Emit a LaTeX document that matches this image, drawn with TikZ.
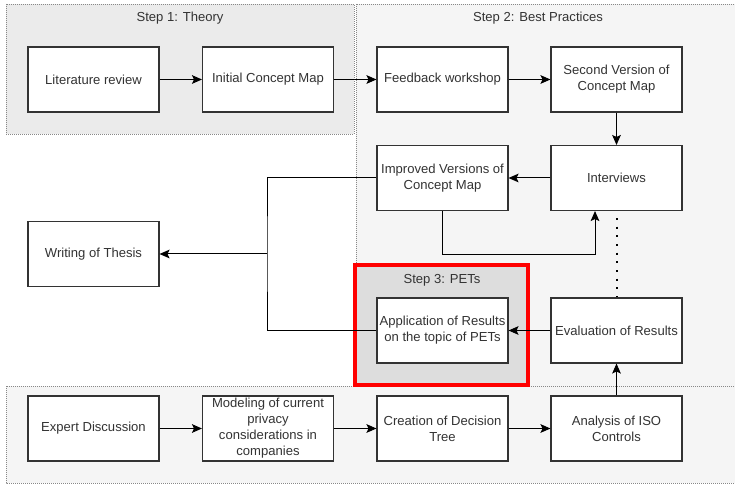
\documentclass[tikz,border=0pt]{standalone}
\usepackage{fontspec}
\setmainfont{Liberation Sans}
\usetikzlibrary{arrows.meta,calc}
\definecolor{txt}{HTML}{333333}
\definecolor{bd}{HTML}{333333}
\definecolor{cone}{HTML}{EBEBEB}
\definecolor{ctwo}{HTML}{F5F5F5}
\definecolor{cthree}{HTML}{DDDDDD}
\definecolor{dotb}{HTML}{888888}
\tikzset{
  procbox/.style={draw=bd, fill=white, line width=0.8pt, minimum width=98.25pt, minimum height=48.75pt, inner sep=1pt, align=center, text=txt, font=\fontsize{9.8}{12}\selectfont},
  container/.style={draw=dotb, line width=0.6pt, dash pattern=on 0.75pt off 0.75pt},
  steplabel/.style={text=txt, font=\fontsize{9.8}{12}\selectfont, inner sep=0pt},
  arr/.style={draw=black, line width=0.75pt, -{Stealth[length=7.5pt,width=6.5pt,inset=1.5pt]}},
  conn/.style={draw=black, line width=0.75pt},
  dotline/.style={draw=black, line width=1.5pt, dash pattern=on 1.5pt off 5pt}
}
\begin{document}
\begin{tikzpicture}[x=0.75pt,y=-0.75pt]
\useasboundingbox (0,0) rectangle (735,484);
% containers
\path[container, fill=ctwo] (356,4) rectangle (740,386);
\path[container, fill=cone] (6,4) rectangle (354,134);
\path[container, fill=ctwo] (6,386) rectangle (740,483);
\path[draw=red, line width=2.4pt, fill=cthree] (355,265) rectangle (528,385);
\node[steplabel] (s1) at (180,18) {Step 1: Theory};
\node[steplabel] (s2) at (538,18) {Step 2: Best Practices};
\node[steplabel] (s3) at (442,280) {Step 3: PETs};
% nodes
\node[procbox] (lit) at (93.5,79.5) {Literature review};
\node[procbox] (icm) at (268,79.5) {Initial Concept Map};
\node[procbox] (fw) at (442.5,79.5) {Feedback workshop};
\node[procbox] (sv) at (616.5,79.5) {Second Version of\\Concept Map};
\node[procbox] (imp) at (442.5,178) {Improved Versions of\\Concept Map};
\node[procbox] (int) at (616.5,178) {Interviews};
\node[procbox] (wt) at (93.5,254) {Writing of Thesis};
\node[procbox] (app) at (442.5,330.5) {Application of Results\\on the topic of PETs};
\node[procbox] (eval) at (616.5,330.5) {Evaluation of Results};
\node[procbox] (exp) at (93.5,428.5) {Expert Discussion};
\node[procbox] (mod) at (268,428.5) {Modeling of current\\privacy\\considerations in\\companies};
\node[procbox] (cre) at (442.5,428.5) {Creation of Decision\\Tree};
\node[procbox] (iso) at (616.5,428.5) {Analysis of ISO\\Controls};
% connectors
\draw[arr] (lit) -- (icm);
\draw[arr] (icm) -- (fw);
\draw[arr] (fw) -- (sv);
\draw[arr] (sv) -- (int);
\draw[arr] (int) -- (imp);
\coordinate (turn) at ($(int.south)+(-21.5,43)$);
\draw[arr] (imp.south) |- (turn) -- ($(int.south)+(-21.5,0)$);
\draw[dotline] ($(int.south)+(0,7)$) -- (eval.north);
\draw[arr] (eval) -- (app);
\draw[arr] (iso) -- (eval);
\draw[arr] (exp) -- (mod);
\draw[arr] (mod) -- (cre);
\draw[arr] (cre) -- (iso);
\coordinate (mx) at (267,254);
\draw[conn] (imp.west) -| (mx) |- (app.west);
\draw[arr] (mx) -- (wt.east);
\end{tikzpicture}
\end{document}
